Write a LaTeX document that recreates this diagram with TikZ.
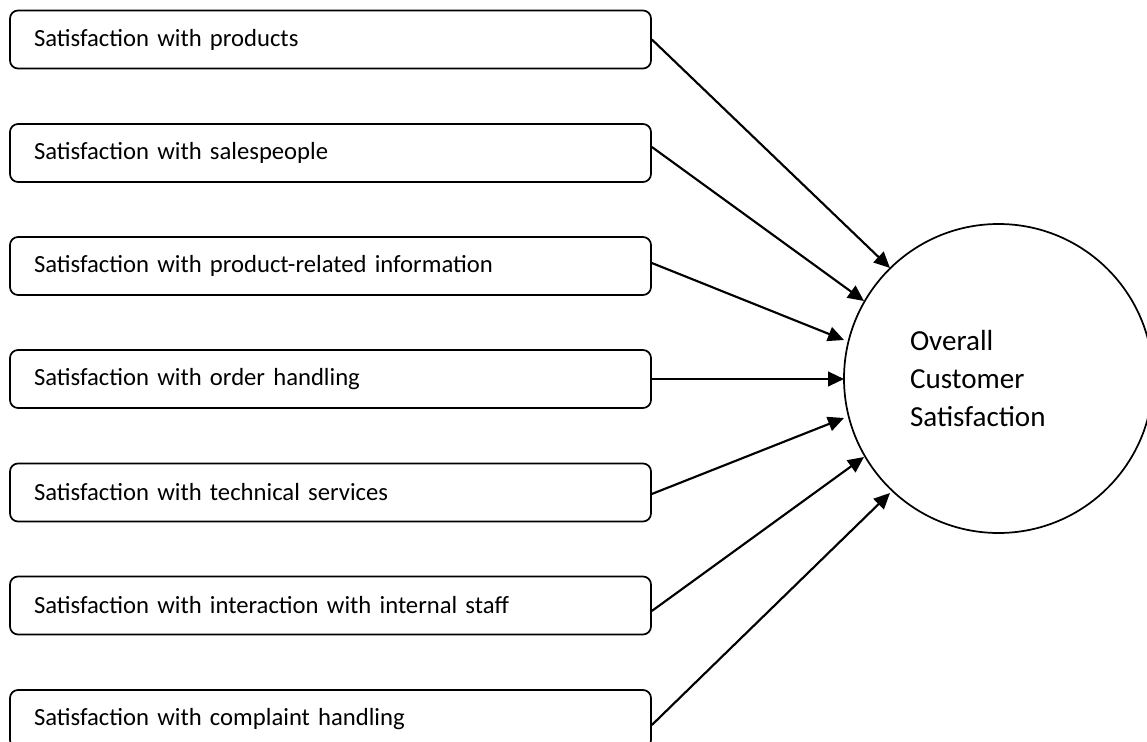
\documentclass[tikz,border=0pt]{standalone}
\usepackage{fontspec}
\setmainfont{Carlito}
\usetikzlibrary{arrows.meta}
\begin{document}
\begin{tikzpicture}[x=0.75pt,y=-0.75pt,
  box/.style={draw, line width=1.3pt, rounded corners=6pt, minimum width=480.75pt,
    minimum height=43.5pt, text width=444.75pt, inner xsep=18pt, align=left,
    font=\fontsize{18.5}{21}\selectfont},
  bigcirc/.style={draw, circle, line width=1.3pt, minimum size=231.75pt, inner sep=0pt,
    text width=132.75pt, align=left, font=\fontsize{21.8}{28.5}\selectfont},
  arr/.style={line width=1.6pt, -{Triangle[length=12pt,width=11pt]}}]
\path[use as bounding box, clip] (0,0) rectangle (1147,742);
\node[box] (b1) at (330.5,39.5) {Satisfaction with products};
\node[box] (b2) at (330.5,153) {Satisfaction with salespeople};
\node[box] (b3) at (330.5,266) {Satisfaction with product-related information};
\node[box] (b4) at (330.5,379) {Satisfaction with order handling};
\node[box] (b5) at (330.5,492.5) {Satisfaction with technical services};
\node[box] (b6) at (330.5,605.5) {Satisfaction with interaction with internal staff};
\node[box] (b7) at (330.5,719) {Satisfaction with complaint handling};
\node[bigcirc] (c) at (998.5,378.5) {Overall\\Customer\\Satisfaction};
\coordinate (t1) at (890,268);
\coordinate (t2) at (864,301);
\coordinate (t3) at (844,340);
\coordinate (t4) at (844,379);
\coordinate (t5) at (844,418);
\coordinate (t6) at (864,457);
\coordinate (t7) at (890,493);
\draw[arr] (b1.east) -- (t1);
\draw[arr] ([yshift=4.5pt]b2.east) -- (t2);
\draw[arr] ([yshift=2.25pt]b3.east) -- (t3);
\draw[arr] (b4.east) -- (t4);
\draw[arr] ([yshift=-1.1pt]b5.east) -- (t5);
\draw[arr] ([yshift=-4.1pt]b6.east) -- (t6);
\draw[arr] ([yshift=-4.5pt]b7.east) -- (t7);
\end{tikzpicture}
\end{document}
